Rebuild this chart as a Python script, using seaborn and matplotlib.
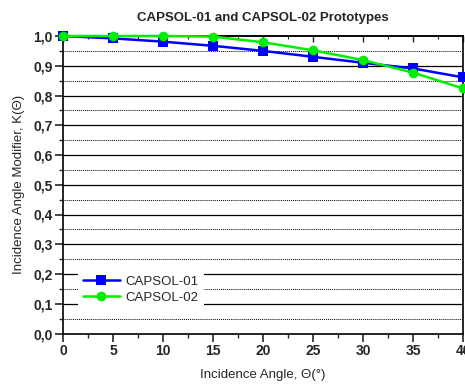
import numpy as np
import pandas as pd
import matplotlib
matplotlib.use("Agg")
import matplotlib.pyplot as plt
import seaborn as sns
from matplotlib.ticker import FuncFormatter, MultipleLocator, NullFormatter

angles = [0, 5, 10, 15, 20, 25, 30, 35, 40]
capsol01 = [1.0, 0.992, 0.981, 0.967, 0.950, 0.930, 0.910, 0.891, 0.861]
capsol02 = [1.0, 1.0, 1.0, 0.998, 0.979, 0.952, 0.919, 0.877, 0.824]
series_names = ["CAPSOL-01", "CAPSOL-02"]

df = pd.DataFrame({
    "angle": angles * 2,
    "k": capsol01 + capsol02,
    "series": [series_names[0]] * len(angles) + [series_names[1]] * len(angles),
})

sns.set_style("white")
plt.rcParams['font.family'] = ['Liberation Sans', 'DejaVu Sans']

fig = plt.figure(figsize=(4.65, 3.85), dpi=100)
ax = fig.add_axes([63/465, 1 - 333.5/385, 400/465, 297.5/385])

# grid lines
for v in np.arange(0.1, 1.0, 0.1):
    ax.axhline(v, color="black", lw=0.9, zorder=0.5)
for v in np.arange(0.05, 1.0, 0.1):
    ax.axhline(v, color="black", lw=0.7, ls=(0, (1, 1)), zorder=0.5)

sns.lineplot(data=df, x="angle", y="k", hue="series", style="series",
             palette={"CAPSOL-01": "#0000ff", "CAPSOL-02": "#00ee00"},
             markers={"CAPSOL-01": "s", "CAPSOL-02": "o"},
             dashes=False, linewidth=1.8, markersize=7, markeredgewidth=0,
             ax=ax, legend=True, clip_on=False, zorder=3)

ax.set_xlim(0, 40)
ax.set_ylim(0, 1.0)
ax.xaxis.set_major_locator(MultipleLocator(5))
ax.xaxis.set_minor_locator(MultipleLocator(2.5))
ax.yaxis.set_major_locator(MultipleLocator(0.1))
ax.yaxis.set_minor_locator(MultipleLocator(0.05))
ax.yaxis.set_major_formatter(FuncFormatter(lambda v, p: f"{v:.1f}".replace(".", ",")))
ax.xaxis.set_major_formatter(FuncFormatter(lambda v, p: f"{v:.0f}"))

ax.tick_params(axis="both", which="major", direction="out", length=5.5, width=1.2,
               labelsize=10, pad=2, bottom=True, left=True, top=False, right=False)
ax.tick_params(axis="both", which="minor", direction="out", length=3, width=1.0,
               bottom=True, left=True, top=False, right=False)
for lab in ax.get_xticklabels() + ax.get_yticklabels():
    lab.set_fontweight("bold")

# inward ticks on top spine
sec = ax.secondary_xaxis("top")
sec.xaxis.set_major_locator(MultipleLocator(5))
sec.xaxis.set_minor_locator(MultipleLocator(2.5))
sec.xaxis.set_major_formatter(NullFormatter())
sec.tick_params(which="major", direction="in", length=4, width=1.0)
sec.tick_params(which="minor", direction="in", length=2.5, width=0.8)
sec.spines["top"].set_linewidth(1.2)

for s in ax.spines.values():
    s.set_color("black")
    s.set_linewidth(1.2)

ax.set_title("CAPSOL-01 and CAPSOL-02 Prototypes", fontsize=9.5, fontweight="bold", pad=11)
ax.set_xlabel("Incidence Angle, \u0398(\u00b0)", fontsize=9.5, labelpad=8)
ax.set_ylabel("Incidence Angle Modifier, K(\u0398)", fontsize=9.5, labelpad=6)

leg = ax.legend(loc="lower left", bbox_to_anchor=(0.02, 0.06), frameon=True,
                fontsize=9.5, handlelength=2.8, borderpad=0.4, labelspacing=0.3,
                handletextpad=0.4, framealpha=1, edgecolor="white", fancybox=False)
leg.get_frame().set_linewidth(0)

fig.savefig("out.png", dpi=100)
